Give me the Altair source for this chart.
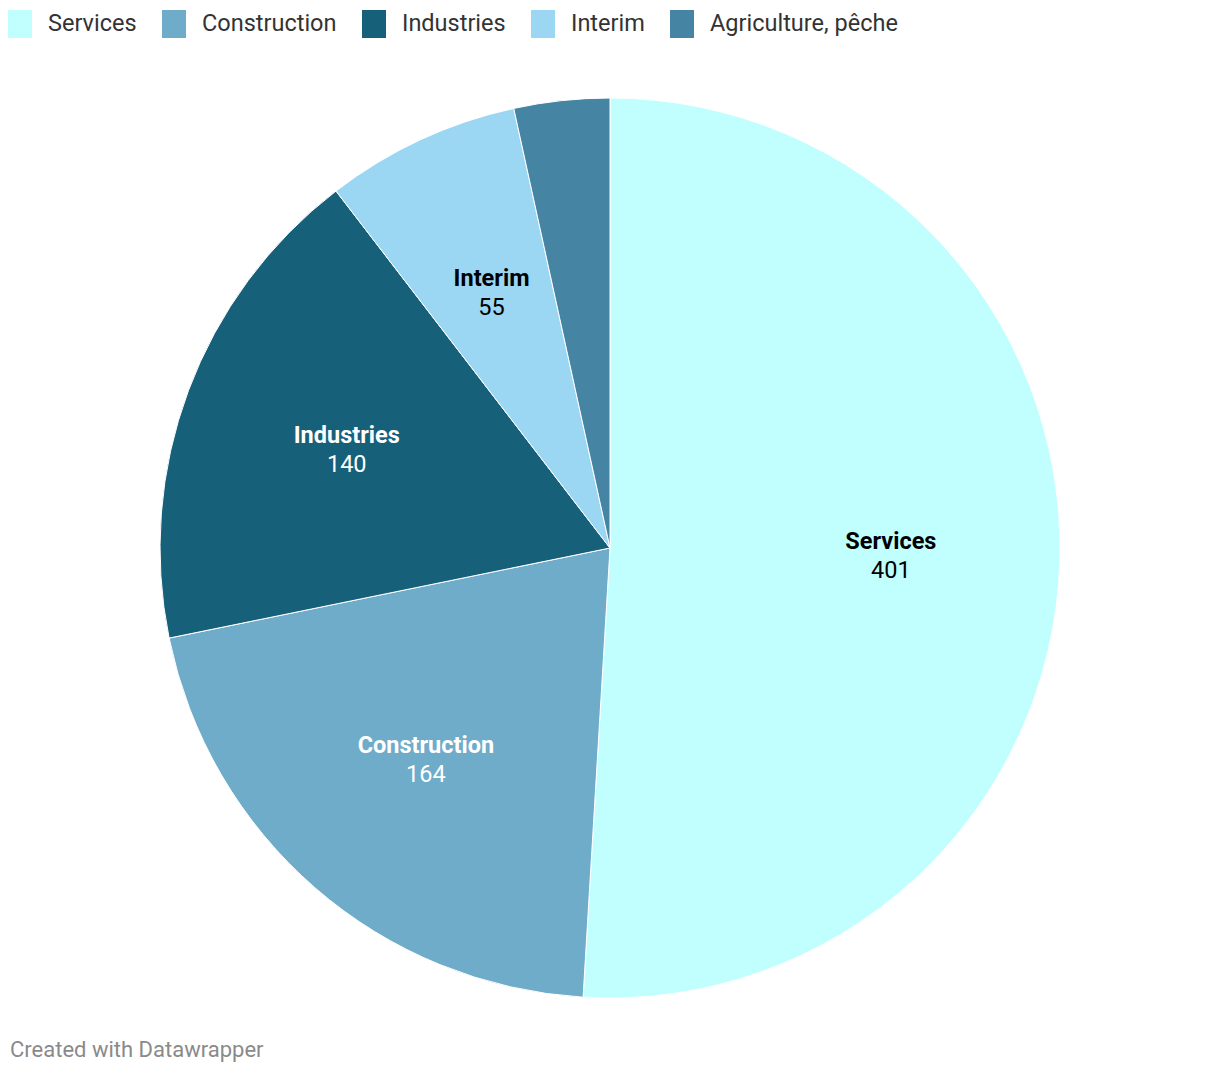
import altair as alt
import pandas as pd

categories = ["Services", "Construction", "Industries", "Interim", "Agriculture, pêche"]
values = [401, 164, 140, 55, 27]
colors = ["#c1fefe", "#6eacc9", "#17607a", "#9bd7f3", "#4585a3"]
label_names = ["Services", "Construction", "Industries", "Interim", ""]
label_values = ["401", "164", "140", "55", ""]
label_colors = ["#000000", "#ffffff", "#ffffff", "#000000", "#000000"]

df = pd.DataFrame({
    "cat": categories,
    "value": values,
    "idx": list(range(len(categories))),
    "lname": label_names,
    "lval": label_values,
    "lcolor": label_colors,
})

CX, CY, R = 610, 548, 450
LR = 281
FONT = "Roboto"

base = alt.Chart(df).encode(
    theta=alt.Theta("value:Q", stack=True),
    order=alt.Order("idx:Q", sort="ascending"),
    x=alt.value(CX),
    y=alt.value(CY),
)

arcs = base.mark_arc(stroke="#ffffff", strokeWidth=1).encode(
    radius=alt.value(R),
    color=alt.Color(
        "cat:N",
        scale=alt.Scale(domain=categories, range=colors),
        sort=categories,
        legend=alt.Legend(
            title=None,
            orient="none",
            legendX=6,
            legendY=10,
            direction="horizontal",
            columns=5,
            symbolType="M-0.857,-1H0.857V1H-0.857Z",
            symbolSize=784,
            symbolStrokeWidth=0,
            symbolOpacity=1,
            labelFont=FONT,
            labelFontSize=23.5,
            labelColor="#333333",
            labelOffset=14,
            labelLimit=500,
            columnPadding=23,
            padding=0,
        ),
    ),
)

names = base.mark_text(font=FONT, fontSize=23.5, fontWeight="bold", dy=-14).encode(
    radius=alt.value(LR),
    text="lname:N",
    color=alt.Color("lcolor:N", scale=None),
)

vals = base.mark_text(font=FONT, fontSize=23.5, dy=15).encode(
    radius=alt.value(LR),
    text="lval:N",
    color=alt.Color("lcolor:N", scale=None),
)

footer = alt.Chart(alt.Data(values=[{"t": "Created with Datawrapper"}])).mark_text(
    font=FONT, fontSize=22, color="#8a8a8a", align="left", baseline="middle"
).encode(x=alt.value(10), y=alt.value(1050), text="t:N")

chart = alt.layer(arcs, names, vals, footer).properties(
    width=1220, height=1074, autosize="none", padding=0
).configure_view(stroke=None).resolve_scale(color="independent")

chart.save("out.html", embed_options={"renderer": "svg", "actions": False})
